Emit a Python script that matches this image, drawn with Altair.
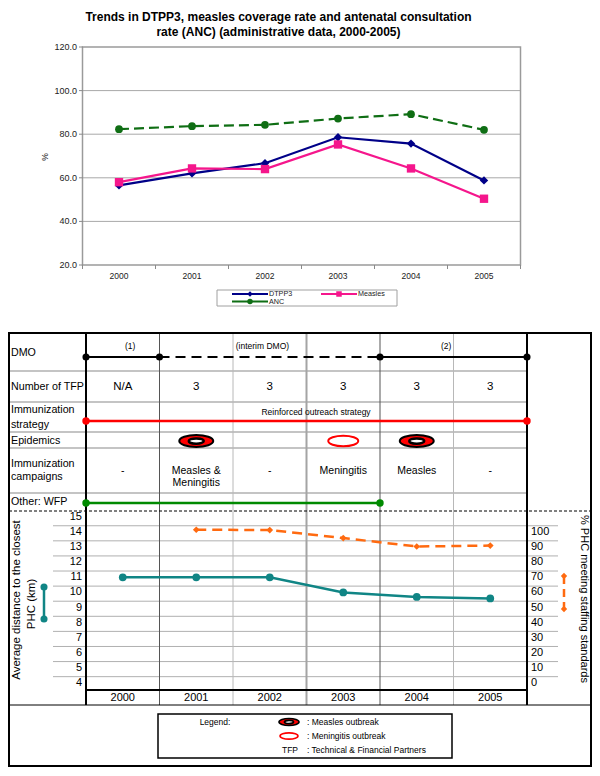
import altair as alt
import pandas as pd

# ---------------- data ----------------
years = [2000, 2001, 2002, 2003, 2004, 2005]
dtpp3 = [56.5, 62.0, 66.7, 78.6, 75.7, 58.8]
measles = [58.0, 64.3, 64.0, 75.3, 64.3, 50.4]
anc = [82.3, 83.7, 84.3, 87.2, 89.2, 82.0]
top_y_ticks = [20, 40, 60, 80, 100, 120]

dmo_start = [1999.5, 2000.5, 2003.5]
dmo_end = [2000.5, 2003.5, 2005.5]
dmo_labels = ["(1)", "(interim DMO)", "(2)"]
dmo_dashed = [False, True, False]
tfp_counts = ["N/A", "3", "3", "3", "3", "3"]
strategy_period = [1999.5, 2005.5]
strategy_label = "Reinforced outreach strategy"
measles_outbreaks = [2001, 2004]
meningitis_outbreaks = [2003]
campaigns = ["-", "Measles &\nMeningitis", "-", "Meningitis", "Measles", "-"]
wfp_period = [1999.5, 2003.5]

distance_km = [11.0, 11.0, 11.0, 10.0, 9.7, 9.6]
staffing_years = [2001, 2002, 2003, 2004, 2005]
staffing_pct = [101.5, 101.3, 96.0, 90.4, 91.0]
left_ticks = list(range(4, 16))
right_ticks = list(range(0, 101, 10))

# ---------------- layout helpers ----------------
W, H = 584, 760
FONT = "Liberation Sans"


def px(p):
    return p - 8


def py(p):
    return p - 8


def xdom(v1, p1, v2, p2):
    a, b = px(p1), px(p2)
    k = (v2 - v1) / (b - a)
    d0 = v1 - a * k
    return [d0, d0 + W * k]


def ydom(v1, p1, v2, p2):
    a, b = py(p1), py(p2)
    k = (v1 - v2) / (b - a)
    d1 = v1 + a * k
    return [d1 - H * k, d1]


def S(dom):
    return alt.Scale(domain=dom, nice=False, zero=False)


XA = S(xdom(2000, 119, 2005, 484))
YA = S(ydom(120, 47, 20, 265))
XB = S(xdom(1999.5, 86, 2005.5, 527))
YB = S(ydom(15, 517, 4, 683))
YC = S(ydom(100, 532, 0, 683))

dummy = pd.DataFrame({"d": [0]})
layers = []


def T(text, x, y, size=11, align="left", weight="normal", angle=None, color="black"):
    kw = dict(align=align, baseline="middle", fontSize=size, fontWeight=weight,
              color=color, font=FONT)
    if angle is not None:
        kw["angle"] = angle
    return alt.Chart(dummy).mark_text(**kw).encode(
        x=alt.value(px(x)), y=alt.value(py(y)), text=alt.value(text))


def HR(y, x1, x2, color="black", width=1.0, dash=None):
    kw = dict(color=color, strokeWidth=width)
    if dash:
        kw["strokeDash"] = dash
    return alt.Chart(dummy).mark_rule(**kw).encode(
        x=alt.value(px(x1)), x2=alt.value(px(x2)), y=alt.value(py(y)))


def VR(x, y1, y2, color="black", width=1.0, dash=None):
    kw = dict(color=color, strokeWidth=width)
    if dash:
        kw["strokeDash"] = dash
    return alt.Chart(dummy).mark_rule(**kw).encode(
        x=alt.value(px(x)), y=alt.value(py(y1)), y2=alt.value(py(y2)))


def DOT(x, y, color, size=50, shape="circle", stroke=None, sw=0, filled=True):
    kw = dict(shape=shape, size=size, filled=filled, color=color, opacity=1)
    if stroke:
        kw["stroke"] = stroke
        kw["strokeWidth"] = sw
    return alt.Chart(dummy).mark_point(**kw).encode(
        x=alt.value(px(x)), y=alt.value(py(y)))


def BOX(x1, x2, y1, y2, color="black", width=1.0):
    return alt.Chart(dummy).mark_rect(fillOpacity=0, stroke=color, strokeWidth=width).encode(
        x=alt.value(px(x1)), x2=alt.value(px(x2)), y=alt.value(py(y1)), y2=alt.value(py(y2)))


ELL = ("M -1 0 C -1 -0.1933 -0.5523 -0.35 0 -0.35 C 0.5523 -0.35 1 -0.1933 1 0 "
       "C 1 0.1933 0.5523 0.35 0 0.35 C -0.5523 0.35 -1 0.1933 -1 0 Z")

# ================= TOP CHART =================
layers.append(T("Trends in DTPP3, measles coverage rate and antenatal consultation",
                278.5, 17, size=12, align="center", weight="bold"))
layers.append(T("rate (ANC) (administrative data, 2000-2005)",
                278.5, 32, size=12, align="center", weight="bold"))

grid_df = pd.DataFrame({"v": [t for t in top_y_ticks if 20 < t < 120],
                        "a": 1999.5, "b": 2005.5})
layers.append(alt.Chart(grid_df).mark_rule(color="#a8a8a8", strokeWidth=1).encode(
    y=alt.Y("v:Q", scale=YA, axis=None),
    x=alt.X("a:Q", scale=XA, axis=None), x2="b:Q"))
frame_df = pd.DataFrame({"x0": [1999.5], "x1": [2005.5], "y0": [20], "y1": [120]})
layers.append(alt.Chart(frame_df).mark_rect(fillOpacity=0, stroke="#9a9a9a", strokeWidth=1.5).encode(
    x=alt.X("x0:Q", scale=XA, axis=None), x2="x1:Q",
    y=alt.Y("y0:Q", scale=YA, axis=None), y2="y1:Q"))
yt_df = pd.DataFrame({"v": top_y_ticks, "lab": [f"{t:.1f}" for t in top_y_ticks]})
layers.append(alt.Chart(yt_df).mark_rule(color="#8a8a8a").encode(
    y=alt.Y("v:Q", scale=YA, axis=None), x=alt.value(px(79)), x2=alt.value(px(83))))
layers.append(alt.Chart(yt_df).mark_text(align="right", baseline="middle", fontSize=9, font=FONT,
                                         color="#222").encode(
    y=alt.Y("v:Q", scale=YA, axis=None), x=alt.value(px(77)), text="lab:N"))
xb_df = pd.DataFrame({"b": [1999.5 + i for i in range(7)]})
layers.append(alt.Chart(xb_df).mark_rule(color="#8a8a8a").encode(
    x=alt.X("b:Q", scale=XA, axis=None), y=alt.value(py(265)), y2=alt.value(py(269))))
yr_df = pd.DataFrame({"year": years, "lab": [str(y) for y in years]})
layers.append(alt.Chart(yr_df).mark_text(align="center", baseline="middle", fontSize=8.5, font=FONT,
                                         color="#222").encode(
    x=alt.X("year:Q", scale=XA, axis=None), y=alt.value(py(276)), text="lab:N"))
layers.append(T("%", 45, 157, size=8.5, align="center", angle=270, color="#222"))

series = [
    ("ANC", anc, dict(color="#0f6e14", shape="circle", size=60, dash=[10, 5])),
    ("DTPP3", dtpp3, dict(color="#000088", shape="diamond", size=70, dash=None)),
    ("Measles", measles, dict(color="#f5168c", shape="square", size=70, dash=None)),
]
for name, vals, st in series:
    df = pd.DataFrame({"year": years, "value": vals})
    lkw = dict(color=st["color"], strokeWidth=2.2)
    if st["dash"]:
        lkw["strokeDash"] = st["dash"]
    enc = dict(x=alt.X("year:Q", scale=XA, axis=None), y=alt.Y("value:Q", scale=YA, axis=None))
    layers.append(alt.Chart(df).mark_line(**lkw).encode(**enc))
    layers.append(alt.Chart(df).mark_point(shape=st["shape"], size=st["size"], filled=True,
                                           color=st["color"], opacity=1).encode(**enc))

# top legend
layers.append(BOX(217, 397, 290, 306, color="#a0a0a0", width=1))
leg = [("DTPP3", 232, 268, 294, "#000088", "diamond"),
       ("ANC", 232, 268, 301.5, "#0f6e14", "circle"),
       ("Measles", 321, 357, 294, "#f5168c", "square")]
for name, x1, x2, yy, col, shp in leg:
    layers.append(HR(yy, x1, x2, color=col, width=2))
    layers.append(DOT((x1 + x2) / 2, yy, col, size=30, shape=shp))
    layers.append(T(name, x2 + 1, yy, size=7.2, color="#222"))

# ================= TABLE =================
ROW_GRAY = "#c4c4c4"
for yy in [371, 402, 432, 448, 493]:
    layers.append(HR(yy, 9, 527, color=ROW_GRAY, width=2))

g_df = pd.DataFrame({"g": [n + 0.42 for n in range(4, 15)]})
layers.append(alt.Chart(g_df).mark_rule(color="#b0b0b0", strokeWidth=1).encode(
    y=alt.Y("g:Q", scale=YB, axis=None), x=alt.value(px(53)), x2=alt.value(px(558))))

col_styles = [([2001.5, 2004.5], "#b8b8b8", 1.0),
              ([2002.5], "#a4a4a4", 2.0),
              ([2000.5, 2003.5], "#555555", 1.0),
              ([1999.5, 2005.5], "black", 2.0)]
for bounds, col, wdt in col_styles:
    layers.append(alt.Chart(pd.DataFrame({"b": bounds})).mark_rule(color=col, strokeWidth=wdt).encode(
        x=alt.X("b:Q", scale=XB, axis=None), y=alt.value(py(333)), y2=alt.value(py(705))))

layers.append(BOX(9, 591, 333, 766, color="black", width=2))
layers.append(HR(511, 9, 591, color="black", width=1, dash=[3, 2]))
layers.append(HR(705, 9, 591, color="black", width=1))

LS = 10.7
for txt, yy in [("DMO", 353), ("Number of TFP", 387), ("Immunization", 410), ("strategy", 425),
                ("Epidemics", 441), ("Immunization", 464), ("campaigns", 477), ("Other: WFP", 502)]:
    layers.append(T(txt, 11, yy, size=LS))

dmo_label_at = [2000.1, 2001.9, 2004.4]
dmo_df = pd.DataFrame({"start": dmo_start, "end": dmo_end, "label": dmo_labels,
                       "dashed": dmo_dashed, "at": dmo_label_at})
for dashed in [False, True]:
    sub = dmo_df[dmo_df["dashed"] == dashed]
    kw = dict(color="black", strokeWidth=2)
    if dashed:
        kw["strokeDash"] = [10, 6]
    layers.append(alt.Chart(sub).mark_rule(**kw).encode(
        x=alt.X("start:Q", scale=XB, axis=None), x2="end:Q", y=alt.value(py(357))))
ends_df = pd.DataFrame({"p": sorted(set(dmo_start + dmo_end))})
layers.append(alt.Chart(ends_df).mark_point(shape="circle", size=50, filled=True, color="black",
                                            opacity=1).encode(
    x=alt.X("p:Q", scale=XB, axis=None), y=alt.value(py(357))))
layers.append(alt.Chart(dmo_df).mark_text(align="center", baseline="middle", fontSize=8.5,
                                          font=FONT).encode(
    x=alt.X("at:Q", scale=XB, axis=None), y=alt.value(py(346)), text="label:N"))

tfp_df = pd.DataFrame({"year": years, "n": tfp_counts})
layers.append(alt.Chart(tfp_df).mark_text(align="center", baseline="middle", fontSize=11.5,
                                          font=FONT).encode(
    x=alt.X("year:Q", scale=XB, axis=None), y=alt.value(py(387)), text="n:N"))

st_df = pd.DataFrame({"a": [strategy_period[0]], "b": [strategy_period[1]]})
layers.append(alt.Chart(st_df).mark_rule(color="#ff0000", strokeWidth=2.5).encode(
    x=alt.X("a:Q", scale=XB, axis=None), x2="b:Q", y=alt.value(py(421))))
layers.append(alt.Chart(pd.DataFrame({"p": strategy_period})).mark_point(
    shape="circle", size=55, filled=True, color="#ff0000", opacity=1).encode(
    x=alt.X("p:Q", scale=XB, axis=None), y=alt.value(py(421))))
layers.append(alt.Chart(pd.DataFrame({"p": [2002.63], "t": [strategy_label]})).mark_text(
    align="center", baseline="middle", fontSize=8.5, font=FONT).encode(
    x=alt.X("p:Q", scale=XB, axis=None), y=alt.value(py(412)), text="t:N"))

me_df = pd.DataFrame({"year": measles_outbreaks})
layers.append(alt.Chart(me_df).mark_point(shape=ELL, size=34 * 34, filled=True, color="#ff0000",
                                          stroke="black", strokeWidth=2, opacity=1).encode(
    x=alt.X("year:Q", scale=XB, axis=None), y=alt.value(py(441))))
layers.append(alt.Chart(me_df).mark_point(shape=ELL, size=15 * 15, filled=True, color="white",
                                          stroke="black", strokeWidth=2.5, opacity=1).encode(
    x=alt.X("year:Q", scale=XB, axis=None), y=alt.value(py(441))))
mn_df = pd.DataFrame({"year": meningitis_outbreaks})
layers.append(alt.Chart(mn_df).mark_point(shape=ELL, size=30 * 30, filled=True, color="white",
                                          stroke="#ff0000", strokeWidth=2, opacity=1).encode(
    x=alt.X("year:Q", scale=XB, axis=None), y=alt.value(py(441))))

cp_df = pd.DataFrame({"year": years, "c": campaigns})
layers.append(alt.Chart(cp_df).mark_text(align="center", baseline="middle", fontSize=10.5, font=FONT,
                                         lineBreak="\n", lineHeight=12).encode(
    x=alt.X("year:Q", scale=XB, axis=None), y=alt.value(py(471)), text="c:N"))

wfp_df = pd.DataFrame({"a": [wfp_period[0]], "b": [wfp_period[1]]})
layers.append(alt.Chart(wfp_df).mark_rule(color="#008a00", strokeWidth=2.5).encode(
    x=alt.X("a:Q", scale=XB, axis=None), x2="b:Q", y=alt.value(py(503))))
layers.append(alt.Chart(pd.DataFrame({"p": wfp_period})).mark_point(
    shape="circle", size=55, filled=True, color="#008a00", opacity=1).encode(
    x=alt.X("p:Q", scale=XB, axis=None), y=alt.value(py(503))))

# ================= BOTTOM CHART =================
TEAL = "#108585"
ORANGE = "#ff6a10"
lt_df = pd.DataFrame({"v": left_ticks})
layers.append(alt.Chart(lt_df).mark_text(align="right", baseline="middle", fontSize=11, font=FONT).encode(
    y=alt.Y("v:Q", scale=YB, axis=None), x=alt.value(px(82)), text="v:Q"))
rt_df = pd.DataFrame({"v": right_ticks})
layers.append(alt.Chart(rt_df).mark_text(align="left", baseline="middle", fontSize=11, font=FONT).encode(
    y=alt.Y("v:Q", scale=YC, axis=None), x=alt.value(px(531)), text="v:Q"))

layers.append(HR(690, 86, 527, color="black", width=2))
layers.append(alt.Chart(yr_df).mark_text(align="center", baseline="middle", fontSize=11, font=FONT).encode(
    x=alt.X("year:Q", scale=XB, axis=None), y=alt.value(py(698)), text="lab:N"))

d_df = pd.DataFrame({"year": years, "km": distance_km})
enc_d = dict(x=alt.X("year:Q", scale=XB, axis=None), y=alt.Y("km:Q", scale=YB, axis=None))
layers.append(alt.Chart(d_df).mark_line(color=TEAL, strokeWidth=2.5).encode(**enc_d))
layers.append(alt.Chart(d_df).mark_point(shape="circle", size=60, filled=True, color=TEAL,
                                         opacity=1).encode(**enc_d))
s_df = pd.DataFrame({"year": staffing_years, "pct": staffing_pct})
enc_s = dict(x=alt.X("year:Q", scale=XB, axis=None), y=alt.Y("pct:Q", scale=YC, axis=None))
layers.append(alt.Chart(s_df).mark_line(color=ORANGE, strokeWidth=2.5, strokeDash=[10, 6]).encode(**enc_s))
layers.append(alt.Chart(s_df).mark_point(shape="diamond", size=45, filled=True, color=ORANGE,
                                         opacity=1).encode(**enc_s))

layers.append(T("Average distance to the closest", 17, 600, size=11.5, align="center", angle=270))
layers.append(T("PHC (km)", 32, 604, size=11.5, align="center", angle=270))
layers.append(T("% PHC meeting staffing standards", 584, 599, size=11, align="center", angle=90))

layers.append(VR(44, 587, 619, color=TEAL, width=2.5))
layers.append(DOT(44, 587, TEAL, size=50))
layers.append(DOT(44, 619, TEAL, size=50))
layers.append(VR(564, 576, 609, color=ORANGE, width=2.5, dash=[8, 5]))
layers.append(DOT(564, 576, ORANGE, size=40, shape="diamond"))
layers.append(DOT(564, 609, ORANGE, size=40, shape="diamond"))

# ================= BOTTOM LEGEND =================
layers.append(BOX(158, 452, 714, 758, color="black", width=1.5))
r1, r2, r3 = 722, 736, 750
layers.append(T("Legend:", 215, r1, size=8.5, align="center"))
layers.append(DOT(289, r1, "#ff0000", size=20 * 20, shape=ELL, stroke="black", sw=1.6))
layers.append(DOT(289, r1, "white", size=9 * 9, shape=ELL, stroke="black", sw=1.8))
layers.append(T(": Measles outbreak", 307, r1, size=8.5))
layers.append(DOT(289, r2, "white", size=18 * 18, shape=ELL, stroke="#ff0000", sw=1.8))
layers.append(T(": Meningitis outbreak", 307, r2, size=8.5))
layers.append(T("TFP", 290, r3, size=8.5, align="center"))
layers.append(T(": Technical & Financial Partners", 307, r3, size=8.5))

chart = alt.layer(*layers).resolve_scale(x="independent", y="independent").properties(
    width=W, height=H, padding=0, autosize=alt.AutoSizeParams(type="none")
).configure_view(stroke=None)

chart.save("out.html", embed_options={"renderer": "svg", "actions": False})
